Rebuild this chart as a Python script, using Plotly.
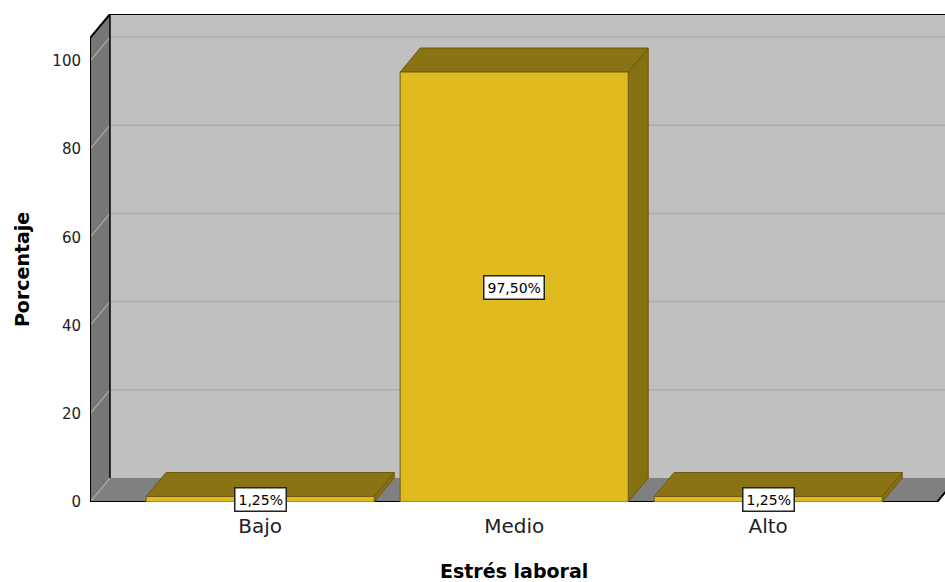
import plotly.graph_objects as go

# Data
categories = ["Bajo", "Medio", "Alto"]
percentages = [1.25, 97.5, 1.25]
y_ticks = [0, 20, 40, 60, 80, 100]

# Styling
FONT = "DejaVu Sans"
BAR_FRONT = "#E0BB1F"
BAR_TOP = "#8A7314"
BAR_SIDE = "#857012"
BAR_EDGE = "#6E5C10"
BACK_WALL = "#C0C0C0"
SIDE_WALL = "#767676"
FLOOR = "#808080"
GRID = "#ABABAB"

# Oblique 3D geometry (in data units)
half_w = 0.449          # half bar width in category units
dx = 0.0787             # depth shift along x
dy = 5.44               # depth shift along y
x_left = -0.67          # front-left edge of the chart box
x_right = 2.665         # front-right edge of the floor
y_top = 105.2           # top of the chart box at the front plane

fig = go.Figure()


def poly(xs, ys, fill, line_color=None, width=0):
    fig.add_trace(go.Scatter(
        x=list(xs) + [xs[0]], y=list(ys) + [ys[0]],
        mode="lines", fill="toself", fillcolor=fill,
        line=dict(color=line_color or fill, width=width),
        hoverinfo="skip", showlegend=False))


def seg(xs, ys, color, width):
    fig.add_trace(go.Scatter(
        x=xs, y=ys, mode="lines", line=dict(color=color, width=width),
        hoverinfo="skip", showlegend=False))


# Back wall
poly([x_left + dx, 3.2, 3.2, x_left + dx],
     [dy, dy, y_top + dy, y_top + dy], BACK_WALL)
# Left side wall
poly([x_left, x_left, x_left + dx, x_left + dx],
     [0, y_top, y_top + dy, dy], SIDE_WALL)
# Floor
poly([x_left, x_right, x_right + dx, x_left + dx],
     [0, 0, dy, dy], FLOOR)

# Gridlines on back wall and side wall
for v in y_ticks:
    if v > 0:
        seg([x_left + dx, 3.2], [v + dy, v + dy], GRID, 1.5)
    seg([x_left, x_left + dx], [v, v + dy], GRID, 1.2)

# Box outline
seg([x_left, x_left], [0, y_top], "black", 2)
seg([x_left + dx, x_left + dx], [dy, y_top + dy], "black", 1.5)
seg([x_left, x_left + dx, 3.2], [y_top, y_top + dy, y_top + dy], "black", 2)
seg([x_left, x_right, x_right + dx], [0, 0, dy], "black", 2)

# Bars
for i, v in enumerate(percentages):
    x0, x1 = i - half_w, i + half_w
    # right side face
    poly([x1, x1, x1 + dx, x1 + dx], [0, v, v + dy, dy], BAR_SIDE, BAR_EDGE, 1)
    # top face
    poly([x0, x1, x1 + dx, x0 + dx], [v, v, v + dy, v + dy], BAR_TOP, BAR_EDGE, 1)
    # front face
    poly([x0, x1, x1, x0], [0, 0, v, v], BAR_FRONT, BAR_EDGE, 1)

# Value labels
for i, v in enumerate(percentages):
    fig.add_annotation(
        x=i, y=v / 2, text=f"{v:.2f}".replace(".", ",") + "%",
        showarrow=False, bgcolor="white", bordercolor="#222222",
        borderwidth=1.5, borderpad=3,
        font=dict(family=FONT, size=14, color="black"))

# Axis titles
fig.add_annotation(
    x=1, y=-0.1414, xref="x", yref="paper", yanchor="middle",
    text="<b>Estrés laboral</b>",
    showarrow=False, font=dict(family=FONT, size=19, color="black"))
fig.add_annotation(
    x=-0.0795, y=y_top / 2, xref="paper", yref="y",
    xanchor="center", yanchor="middle",
    text="<b>Porcentaje</b>",
    textangle=-90, showarrow=False,
    font=dict(family=FONT, size=19, color="black"))

fig.update_layout(
    width=945, height=582,
    margin=dict(l=90, r=0, t=14, b=80),
    paper_bgcolor="white", plot_bgcolor="white",
    xaxis=dict(range=[x_left, x_left + 855 / 254], tickvals=[0, 1, 2],
               ticktext=categories, showgrid=False, zeroline=False,
               showline=False, ticks="", ticklabelstandoff=10,
               tickfont=dict(family=FONT, size=20, color="#222222"),
               fixedrange=True),
    yaxis=dict(range=[0, 110.66], tickvals=y_ticks,
               ticktext=[str(t) for t in y_ticks], showgrid=False,
               zeroline=False, showline=False, ticks="",
               ticklabelstandoff=8,
               tickfont=dict(family=FONT, size=15, color="#222222"),
               fixedrange=True),
)

fig.write_html("out.html")
